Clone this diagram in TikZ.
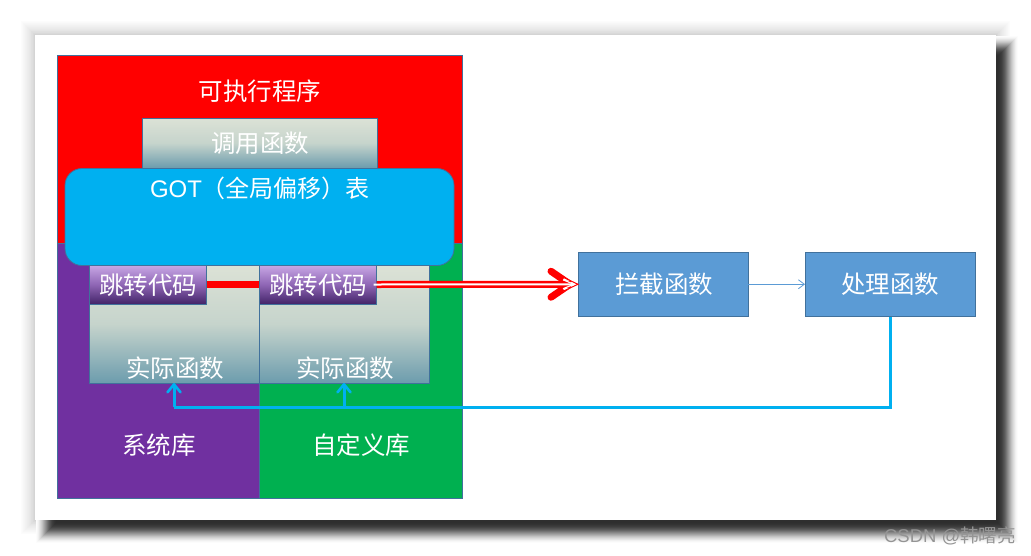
\documentclass[tikz,border=0pt]{standalone}
\usepackage{fontspec}
\setmainfont{Noto Sans CJK SC}
\newfontfamily\latinfont{Liberation Sans}
\usetikzlibrary{calc,arrows.meta}
\definecolor{edgeblue}{HTML}{41719C}
\definecolor{cyanfill}{HTML}{00B0F0}
\definecolor{bluefill}{HTML}{5B9BD5}
\definecolor{purplefill}{HTML}{7030A0}
\definecolor{greenfill}{HTML}{00B050}
\definecolor{greytop}{HTML}{DCE2D6}
\definecolor{greymid}{HTML}{C6D4CC}
\definecolor{greybot}{HTML}{6C9CAD}
\definecolor{violtop}{HTML}{C9A8E6}
\definecolor{violmid}{HTML}{8F66B5}
\definecolor{violbot}{HTML}{432468}
\tikzset{
  panel/.style={anchor=north west,inner sep=0pt,outer sep=0pt,line width=.8pt,draw=edgeblue},
  greybox/.style={panel,top color=greytop,bottom color=greybot,middle color=greymid},
  violetbox/.style={panel,top color=violtop,bottom color=violbot,middle color=violmid},
  solidbox/.style={panel,fill=bluefill},
  label/.style={text=white,font=\fontsize{24.5}{28}\selectfont,inner sep=0pt},
  returnline/.style={draw=cyanfill,line width=3pt},
  returnarrow/.style={returnline,-{Straight Barb[length=8pt,width=13pt,line width=2.6pt,round]}},
}
\begin{document}
\begin{tikzpicture}[x=1pt,y=-1pt]
\useasboundingbox (0,0) rectangle (1031,555);
\fill[white] (0,0) rectangle (1031,555);
% soft shadows of the sheet, as opaque greys from the outside in
\foreach \rad/\val in {14/1,13/2,12/3,11/4,10/5,9/6,8/7,7/8,6/9,5/10,4/12,3/13,2/15,1/17}{
  \fill[black!\val] (35-\rad,35-\rad) rectangle (996+\rad,520+\rad);
}
\foreach \rad/\val in {11/1,10/3,9/6,8/10,7/14,6/19,5/24,4/30,3/36,2/42,1/48,0/54,-1/60,-2/65,-3/69,-4/73,-5/76,-6/78,-7/80,-8/81,-9/82,-10/82}{
  \fill[black!\val] (47-\rad,47-\rad) rectangle (1007+\rad,532+\rad);
}
\fill[white] (35,35) rectangle (996,520);
% large panels
\node[panel,fill=red,minimum width=405pt,minimum height=188pt] (exe) at (57,55) {};
\node[panel,fill=purplefill,minimum width=202pt,minimum height=255pt] (sys) at (57,243) {};
\node[panel,fill=greenfill,minimum width=203pt,minimum height=255pt] (own) at (259,243) {};
\node[greybox,minimum width=235pt,minimum height=50pt] (call) at (142,118) {};
\node[panel,fill=cyanfill,rounded corners=17pt,minimum width=389pt,minimum height=97pt] (got) at (65,168.5) {};
\node[greybox,minimum width=170pt,minimum height=118pt] (fa) at (89,265) {};
\node[greybox,minimum width=170pt,minimum height=118pt] (fb) at (259,265) {};
\node[violetbox,minimum width=117.5pt,minimum height=39pt] (ja) at (89,265) {};
\node[violetbox,minimum width=117.5pt,minimum height=39pt] (jb) at (259,265) {};
\node[solidbox,minimum width=170pt,minimum height=64.5pt] (hook) at (578,252) {};
\node[solidbox,minimum width=170pt,minimum height=64.5pt] (proc) at (805,252) {};
% labels
\node[label] (t1) at (260,91.5) {可执行程序};
\node[label] (t2) at (260,143) {调用函数};
\node[label,font=\fontsize{24}{28}\selectfont] (t3) at (260,188) {{\latinfont GOT}（全局偏移）表};
\node[label] (t4) at (148,285) {跳转代码};
\node[label] (t5) at (318,285) {跳转代码};
\node[label] (t6) at (175,368) {实际函数};
\node[label] (t7) at (345,368) {实际函数};
\node[label] (t8) at (159,445) {系统库};
\node[label] (t9) at (361,445) {自定义库};
\node[label] (t10) at (664,284) {拦截函数};
\node[label] (t11) at (890,284) {处理函数};
% red connectors
\draw[red,line width=7pt] (ja.east) -- (jb.west);
\coordinate (tip) at (hook.west);
\draw[red,line width=7pt,line cap=round,line join=round] ($(tip)+(-27,-13)$) -- ($(tip)+(-8,0)$) -- ($(tip)+(-27,13)$);
\draw[red,line width=1pt,fill=white] ($(tip)+(-15,-7)$) -- (tip) -- ($(tip)+(-15,7)$) -- cycle;
\draw[red,line width=7pt] (jb.east) -- ($(tip)+(-7,0)$);
\draw[white,line width=1.2pt] ($(tip)+(-15,-4.5)$) -- ($(tip)+(-4,0)$) -- ($(tip)+(-15,4.5)$);
\draw[white,line width=2pt,shorten <=-3pt] (jb.east) -- ($(tip)+(-4,0)$);
% thin connector
\draw[bluefill,line width=.8pt,-{Straight Barb[length=6pt,width=9pt,line width=.8pt]}] (hook.east) -- (proc.west);
% return connector
\coordinate (bus) at (fa.south |- 0,407);
\draw[returnline,line join=miter] (proc.south) |- (bus);
\draw[returnarrow] (bus) -- (fa.south);
\draw[returnarrow] (fb.south |- bus) -- (fb.south);
% watermark
\node[text=black!42,font=\fontsize{18.5}{20}\selectfont,inner sep=0pt] (mark) at (950,536) {{\latinfont CSDN @}韩曙亮};
\end{tikzpicture}
\end{document}
